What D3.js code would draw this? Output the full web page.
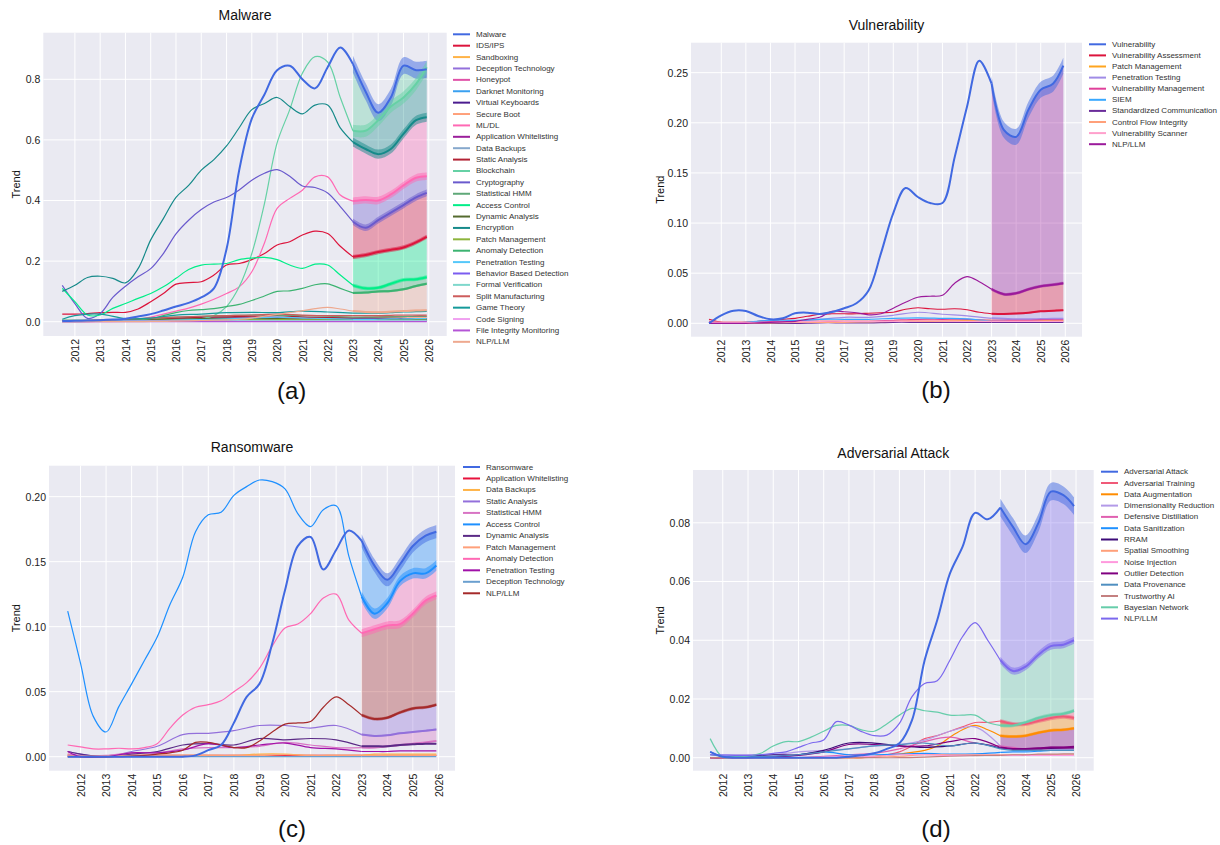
<!DOCTYPE html>
<html>
<head>
<meta charset="utf-8">
<script src="https://cdn.jsdelivr.net/npm/d3@7"></script>
<style>
  body { margin: 0; background: #fff; }
  svg text { font-family: "Liberation Sans", Arial, sans-serif; }
</style>
</head>
<body>
<svg id="chart" width="1220" height="845"></svg>
<script>
// Shared x grids (years). History runs to 2023, forecasts after that.
const halfYears = [2011.5, 2012, 2012.5, 2013, 2013.5, 2014, 2014.5, 2015, 2015.5, 2016, 2016.5, 2017,
                   2017.5, 2018, 2018.5, 2019, 2019.5, 2020, 2020.5, 2021, 2021.5, 2022, 2022.5, 2023];
const wholeYears = [2011.5, 2012, 2013, 2014, 2015, 2016, 2017, 2018, 2019, 2020, 2021, 2022, 2023];
const forecastYears = [2023.5, 2024, 2024.5, 2025, 2025.5, 2025.92];
const yearTicks = [2012, 2013, 2014, 2015, 2016, 2017, 2018, 2019, 2020, 2021, 2022, 2023, 2024, 2025, 2026];

// ---------- (a) Malware ----------
const malwareNames = ["Malware", "IDS/IPS", "Sandboxing", "Deception Technology", "Honeypot", "Darknet Monitoring",
  "Virtual Keyboards", "Secure Boot", "ML/DL", "Application Whitelisting", "Data Backups", "Static Analysis",
  "Blockchain", "Cryptography", "Statistical HMM", "Access Control", "Dynamic Analysis", "Encryption",
  "Patch Management", "Anomaly Detection", "Penetration Testing", "Behavior Based Detection", "Formal Verification",
  "Split Manufacturing", "Game Theory", "Code Signing", "File Integrity Monitoring", "NLP/LLM"];
const malwareColors = ["#4169e1", "#dc143c", "#ffb347", "#9370db", "#e052a8", "#3aa0f0", "#4b1c8f", "#ffa07a",
  "#ff69b4", "#9b1f9b", "#86a8cc", "#b22234", "#66d1a5", "#6a5acd", "#5fa878", "#00ee88", "#556b2f", "#168a8a",
  "#8db43c", "#3cb371", "#55c8fa", "#7b5cf0", "#7fd8cc", "#cd5c5c", "#159a9a", "#f0a0f0", "#b455d6", "#eea98f"];
const malwareHist = [
  [0.002, 0.003, 0.004, 0.005, 0.007, 0.01, 0.017, 0.025, 0.037, 0.05, 0.062, 0.08, 0.11, 0.24, 0.50, 0.67, 0.75, 0.83, 0.845, 0.80, 0.77, 0.84, 0.905, 0.85],
  [0.025, 0.025, 0.027, 0.03, 0.031, 0.031, 0.042, 0.066, 0.093, 0.124, 0.129, 0.132, 0.154, 0.187, 0.192, 0.205, 0.225, 0.253, 0.264, 0.286, 0.299, 0.291, 0.249, 0.214],
  [0.001, 0.001, 0.002, 0.003, 0.004, 0.006, 0.008, 0.009, 0.01, 0.01, 0.009, 0.009, 0.008],
  [0, 0, 0.001, 0.001, 0.002, 0.003, 0.004, 0.005, 0.006, 0.006, 0.006, 0.006, 0.005],
  [0.002, 0.002, 0.003, 0.004, 0.006, 0.01, 0.012, 0.012, 0.01, 0.008, 0.007, 0.006, 0.005],
  [0, 0, 0.001, 0.002, 0.003, 0.004, 0.006, 0.008, 0.01, 0.012, 0.01, 0.008, 0.007],
  [0.001, 0.001, 0.001, 0.001, 0.001, 0.001, 0.001, 0.001, 0.001, 0.001, 0.001, 0.001, 0.001],
  [0, 0, 0.001, 0.002, 0.003, 0.004, 0.005, 0.006, 0.008, 0.01, 0.012, 0.012, 0.011],
  [0, 0, 0, 0.001, 0.002, 0.004, 0.008, 0.015, 0.025, 0.035, 0.045, 0.058, 0.074, 0.093, 0.115, 0.165, 0.26, 0.374, 0.407, 0.434, 0.478, 0.478, 0.418, 0.398],
  [0.003, 0.003, 0.004, 0.005, 0.008, 0.012, 0.014, 0.015, 0.015, 0.014, 0.012, 0.011, 0.01],
  [0.001, 0.001, 0.002, 0.002, 0.003, 0.004, 0.005, 0.006, 0.006, 0.007, 0.006, 0.005, 0.005],
  [0.001, 0.002, 0.004, 0.006, 0.01, 0.012, 0.015, 0.016, 0.018, 0.02, 0.016, 0.014, 0.013],
  [0.003, 0.002, 0.002, 0.002, 0.002, 0.002, 0.003, 0.004, 0.005, 0.006, 0.008, 0.01, 0.02, 0.05, 0.115, 0.225, 0.39, 0.59, 0.70, 0.82, 0.875, 0.857, 0.74, 0.63],
  [0.12, 0.06, 0.011, 0.027, 0.08, 0.117, 0.148, 0.175, 0.225, 0.29, 0.335, 0.37, 0.395, 0.41, 0.435, 0.467, 0.49, 0.502, 0.48, 0.448, 0.443, 0.425, 0.38, 0.33],
  [0.005, 0.005, 0.006, 0.008, 0.01, 0.015, 0.018, 0.02, 0.022, 0.022, 0.02, 0.018, 0.015],
  [0.11, 0.066, 0.022, 0.022, 0.044, 0.06, 0.077, 0.093, 0.115, 0.143, 0.172, 0.187, 0.19, 0.192, 0.205, 0.21, 0.212, 0.205, 0.187, 0.176, 0.19, 0.187, 0.154, 0.12],
  [0.001, 0.002, 0.003, 0.004, 0.006, 0.008, 0.01, 0.011, 0.011, 0.01, 0.009, 0.008, 0.008],
  [0.10, 0.12, 0.146, 0.15, 0.143, 0.128, 0.175, 0.27, 0.34, 0.41, 0.45, 0.50, 0.535, 0.58, 0.64, 0.70, 0.72, 0.74, 0.71, 0.686, 0.715, 0.715, 0.64, 0.593],
  [0.001, 0.001, 0.002, 0.003, 0.004, 0.005, 0.006, 0.006, 0.007, 0.007, 0.006, 0.006, 0.005],
  [0.002, 0.002, 0.002, 0.002, 0.003, 0.004, 0.006, 0.01, 0.02, 0.03, 0.037, 0.04, 0.043, 0.05, 0.057, 0.07, 0.085, 0.1, 0.102, 0.11, 0.122, 0.125, 0.11, 0.095],
  [0, 0, 0.001, 0.002, 0.003, 0.005, 0.007, 0.009, 0.012, 0.015, 0.012, 0.01, 0.008],
  [0.001, 0.001, 0.002, 0.002, 0.003, 0.003, 0.004, 0.004, 0.004, 0.004, 0.003, 0.003, 0.003],
  [0, 0, 0.001, 0.001, 0.002, 0.002, 0.003, 0.003, 0.004, 0.004, 0.004, 0.004, 0.004],
  [0.002, 0.003, 0.005, 0.008, 0.012, 0.015, 0.018, 0.02, 0.022, 0.025, 0.022, 0.02, 0.02],
  [0.008, 0.02, 0.025, 0.01, 0.012, 0.022, 0.025, 0.03, 0.031, 0.03, 0.035, 0.032, 0.028],
  [0, 0, 0, 0.001, 0.001, 0.001, 0.001, 0.001, 0.001, 0.001, 0.001, 0.001, 0.001],
  [0, 0, 0, 0, 0, 0, 0, 0, 0, 0, 0, 0, 0],
  [0, 0, 0, 0, 0, 0, 0, 0.001, 0.001, 0.002, 0.003, 0.004, 0.005, 0.006, 0.008, 0.012, 0.018, 0.024, 0.03, 0.036, 0.043, 0.047, 0.042, 0.035]
];
const malwareForecast = [
  [0.76, 0.69, 0.74, 0.845, 0.83, 0.833],
  [0.22, 0.23, 0.237, 0.245, 0.262, 0.28],
  [0.008, 0.008, 0.009, 0.009, 0.01, 0.01],
  [0.005, 0.005, 0.005, 0.005, 0.005, 0.005],
  [0.005, 0.005, 0.005, 0.005, 0.005, 0.005],
  [0.007, 0.007, 0.007, 0.008, 0.008, 0.008],
  [0.001, 0.001, 0.001, 0.001, 0.001, 0.001],
  [0.011, 0.011, 0.012, 0.012, 0.013, 0.013],
  [0.402, 0.40, 0.42, 0.45, 0.475, 0.48],
  [0.01, 0.01, 0.01, 0.01, 0.01, 0.01],
  [0.005, 0.005, 0.005, 0.005, 0.005, 0.005],
  [0.014, 0.015, 0.016, 0.017, 0.018, 0.018],
  [0.63, 0.665, 0.71, 0.74, 0.785, 0.84],
  [0.31, 0.335, 0.36, 0.385, 0.41, 0.425],
  [0.015, 0.015, 0.016, 0.017, 0.018, 0.018],
  [0.11, 0.112, 0.125, 0.138, 0.14, 0.147],
  [0.008, 0.008, 0.008, 0.008, 0.008, 0.008],
  [0.57, 0.553, 0.57, 0.62, 0.665, 0.675],
  [0.005, 0.005, 0.005, 0.005, 0.005, 0.005],
  [0.096, 0.1, 0.101, 0.107, 0.118, 0.125],
  [0.008, 0.008, 0.009, 0.009, 0.01, 0.01],
  [0.003, 0.003, 0.003, 0.003, 0.003, 0.003],
  [0.004, 0.004, 0.004, 0.004, 0.004, 0.004],
  [0.02, 0.02, 0.021, 0.022, 0.022, 0.022],
  [0.028, 0.028, 0.03, 0.032, 0.033, 0.034],
  [0.001, 0.001, 0.001, 0.001, 0.001, 0.001],
  [0, 0, 0, 0, 0, 0],
  [0.032, 0.031, 0.033, 0.035, 0.037, 0.038]
];
const malwareBand = [0.028, 0.007, 0, 0, 0, 0, 0, 0, 0.012, 0, 0, 0, 0.02, 0.011, 0, 0.006, 0, 0.015, 0, 0.004, 0, 0, 0, 0, 0, 0, 0, 0.003];
const malwareFillOrder = ["Malware", "Blockchain", "Encryption", "ML/DL", "Cryptography", "IDS/IPS", "Access Control", "Anomaly Detection", "NLP/LLM"];
const malwareTicks = [0, 0.2, 0.4, 0.6, 0.8];

// ---------- (b) Vulnerability ----------
const vulnNames = ["Vulnerability", "Vulnerability Assessment", "Patch Management", "Penetration Testing",
  "Vulnerability Management", "SIEM", "Standardized Communication", "Control Flow Integrity", "Vulnerability Scanner", "NLP/LLM"];
const vulnColors = ["#4169e1", "#dc143c", "#ffa51f", "#a08ce6", "#e0409a", "#38a8ff", "#6a2c9a", "#ffa07a", "#ffa0cc", "#9b1a9b"];
const vulnHist = [
  [0, 0.008, 0.0126, 0.0123, 0.0073, 0.004, 0.005, 0.01, 0.0106, 0.0093, 0.0112, 0.015, 0.02, 0.033, 0.07, 0.11, 0.135, 0.126, 0.12, 0.12, 0.166, 0.216, 0.262, 0.239],
  [0.004, 0.001, 0.0005, 0.001, 0.002, 0.003, 0.004, 0.005, 0.007, 0.009, 0.0095, 0.0095, 0.0095, 0.010, 0.0105, 0.011, 0.014, 0.0155, 0.0145, 0.014, 0.0145, 0.0135, 0.011, 0.0095],
  [0.002, 0.001, 0.001, 0.001, 0.002, 0.002, 0.002, 0.002, 0.002, 0.003, 0.003, 0.003, 0.003],
  [0, 0, 0.0005, 0.001, 0.002, 0.004, 0.006, 0.006, 0.008, 0.011, 0.009, 0.0075, 0.005],
  [0.002, 0.001, 0.001, 0.002, 0.002, 0.002, 0.002, 0.002, 0.003, 0.004, 0.004, 0.004, 0.003],
  [0, 0, 0.001, 0.003, 0.003, 0.004, 0.004, 0.004, 0.005, 0.0055, 0.005, 0.0045, 0.002],
  [0, 0, 0, 0, 0, 0.0005, 0.0005, 0.0005, 0.001, 0.001, 0.001, 0.001, 0.001],
  [0, 0, 0, 0.0005, 0.001, 0.001, 0.001, 0.0015, 0.002, 0.002, 0.002, 0.002, 0.002],
  [0.001, 0.001, 0.001, 0.001, 0.0015, 0.002, 0.002, 0.002, 0.002, 0.0025, 0.0025, 0.002, 0.002],
  [0, 0, 0, 0, 0.0005, 0.001, 0.0015, 0.002, 0.004, 0.006, 0.012, 0.0115, 0.0105, 0.0085, 0.0095, 0.015, 0.021, 0.026, 0.027, 0.028, 0.04, 0.0465, 0.0415, 0.034]
];
const vulnForecast = [
  [0.193, 0.186, 0.213, 0.233, 0.239, 0.257],
  [0.0093, 0.0097, 0.0105, 0.012, 0.0125, 0.013],
  [0.003, 0.003, 0.003, 0.003, 0.003, 0.003],
  [0.0045, 0.004, 0.004, 0.0042, 0.0045, 0.0045],
  [0.003, 0.003, 0.003, 0.0035, 0.0035, 0.0035],
  [0.002, 0.0015, 0.0015, 0.0015, 0.0015, 0.0015],
  [0.001, 0.001, 0.001, 0.001, 0.001, 0.001],
  [0.002, 0.002, 0.002, 0.002, 0.002, 0.002],
  [0.002, 0.002, 0.002, 0.002, 0.002, 0.002],
  [0.029, 0.030, 0.034, 0.037, 0.0385, 0.040]
];
const vulnBand = [0.008, 0.0007, 0, 0.0003, 0, 0, 0, 0, 0, 0.0015];
const vulnFillOrder = ["Vulnerability", "NLP/LLM", "Vulnerability Assessment", "Penetration Testing"];
const vulnTicks = [0, 0.05, 0.10, 0.15, 0.20, 0.25];

// ---------- (c) Ransomware ----------
const ransomNames = ["Ransomware", "Application Whitelisting", "Data Backups", "Static Analysis", "Statistical HMM",
  "Access Control", "Dynamic Analysis", "Patch Management", "Anomaly Detection", "Penetration Testing",
  "Deception Technology", "NLP/LLM"];
const ransomColors = ["#4169e1", "#e8123c", "#ffb347", "#9370db", "#d874c4", "#1e90ff", "#5b2a86", "#ffa07a",
  "#ff69b4", "#a010a8", "#6a9fcf", "#a52a2a"];
const ransomHist = [
  [0, 0, 0, 0, 0, 0, 0, 0, 0, 0, 0.001, 0.005, 0.009, 0.026, 0.046, 0.056, 0.087, 0.128, 0.162, 0.169, 0.144, 0.159, 0.174, 0.166],
  [0.001, 0, 0, 0.001, 0.001, 0.001, 0.001, 0.001, 0.001, 0.001, 0.001, 0.001, 0.001],
  [0.002, 0, 0, 0.001, 0.001, 0.001, 0.001, 0.001, 0.002, 0.002, 0.001, 0.001, 0.001],
  [0.004, 0.002, 0, 0.004, 0.008, 0.017, 0.018, 0.02, 0.024, 0.024, 0.022, 0.024, 0.017],
  [0.002, 0.001, 0.001, 0.003, 0.003, 0.006, 0.007, 0.007, 0.008, 0.011, 0.009, 0.007, 0.007],
  [0.112, 0.072, 0.031, 0.019, 0.0385, 0.056, 0.074, 0.092, 0.117, 0.138, 0.173, 0.186, 0.188, 0.201, 0.2077, 0.2128, 0.2115, 0.206, 0.187, 0.177, 0.19, 0.193, 0.154, 0.123],
  [0.004, 0.002, 0, 0.002, 0.004, 0.009, 0.01, 0.009, 0.014, 0.013, 0.014, 0.013, 0.008],
  [0.001, 0.0005, 0.0005, 0.001, 0.001, 0.001, 0.001, 0.001, 0.001, 0.0015, 0.001, 0.001, 0.001],
  [0.009, 0.0075, 0.006, 0.006, 0.0065, 0.006, 0.007, 0.01, 0.022, 0.032, 0.038, 0.04, 0.043, 0.05, 0.057, 0.068, 0.085, 0.099, 0.102, 0.11, 0.122, 0.125, 0.105, 0.095],
  [0.004, 0, 0, 0.003, 0.003, 0.005, 0.01, 0.007, 0.009, 0.0105, 0.007, 0.006, 0.004],
  [0, 0, 0, 0, 0, 0, 0, 0, 0, 0, 0, 0, 0],
  [0, 0, 0, 0, 0, 0.0005, 0.001, 0.002, 0.003, 0.005, 0.011, 0.011, 0.009, 0.007, 0.007, 0.012, 0.019, 0.025, 0.026, 0.027, 0.038, 0.046, 0.04, 0.032]
];
const ransomForecast = [
  [0.147, 0.136, 0.148, 0.162, 0.170, 0.173],
  [0.001, 0.001, 0.001, 0.001, 0.001, 0.001],
  [0.002, 0.002, 0.002, 0.002, 0.002, 0.002],
  [0.016, 0.0165, 0.018, 0.019, 0.02, 0.021],
  [0.007, 0.008, 0.009, 0.01, 0.011, 0.012],
  [0.110, 0.118, 0.135, 0.141, 0.141, 0.147],
  [0.008, 0.008, 0.009, 0.0095, 0.01, 0.01],
  [0.001, 0.001, 0.001, 0.001, 0.001, 0.001],
  [0.098, 0.101, 0.102, 0.11, 0.12, 0.124],
  [0.004, 0.004, 0.0045, 0.0045, 0.0045, 0.0045],
  [0, 0, 0, 0, 0, 0],
  [0.029, 0.030, 0.034, 0.037, 0.038, 0.040]
];
const ransomBand = [0.005, 0, 0, 0.0006, 0.0005, 0.004, 0.0005, 0, 0.003, 0, 0, 0.0012];
const ransomFillOrder = ["Ransomware", "Access Control", "Anomaly Detection", "NLP/LLM", "Static Analysis", "Statistical HMM"];
const ransomTicks = [0, 0.05, 0.10, 0.15, 0.20];

// ---------- (d) Adversarial Attack ----------
const advNames = ["Adversarial Attack", "Adversarial Training", "Data Augmentation", "Dimensionality Reduction",
  "Defensive Distillation", "Data Sanitization", "RRAM", "Spatial Smoothing", "Noise Injection", "Outlier Detection",
  "Data Provenance", "Trustworthy AI", "Bayesian Network", "NLP/LLM"];
const advColors = ["#4169e1", "#f05a78", "#ff8c00", "#b39ae8", "#e060b0", "#1e90ff", "#3c0a78", "#ffa07a",
  "#ff99dd", "#800080", "#4f8fc0", "#c48080", "#66cdaa", "#7b68ee"];
const advHist = [
  [0.002, 0.0003, 0, 0, 0, 0, 0, 0, 0, 0, 0, 0.0003, 0.0008, 0.0015, 0.003, 0.0049, 0.0128, 0.0332, 0.0469, 0.0627, 0.0718, 0.0834, 0.0812, 0.0852],
  [0, 0, 0, 0, 0, 0, 0, 0, 0, 0, 0, 0, 0, 0.0003, 0.001, 0.002, 0.004, 0.0065, 0.0075, 0.009, 0.0105, 0.012, 0.012, 0.0125],
  [0, 0, 0, 0, 0, 0, 0, 0, 0, 0, 0, 0, 0, 0.0005, 0.0008, 0.0012, 0.0018, 0.0025, 0.004, 0.007, 0.0095, 0.011, 0.0095, 0.0075],
  [0.001, 0.001, 0.001, 0.001, 0.002, 0.0025, 0.003, 0.004, 0.0045, 0.006, 0.009, 0.0105, 0.004],
  [0, 0, 0, 0, 0, 0.0005, 0.001, 0.0015, 0.003, 0.0055, 0.007, 0.005, 0.004],
  [0.002, 0.0003, 0.0003, 0.0005, 0.001, 0.002, 0.001, 0.001, 0.0012, 0.0015, 0.0012, 0.0013, 0.0018],
  [0, 0, 0.0005, 0.001, 0.001, 0.0025, 0.005, 0.005, 0.004, 0.0035, 0.004, 0.005, 0.0033],
  [0, 0, 0, 0, 0, 0, 0, 0.0002, 0.0005, 0.001, 0.001, 0.001, 0.001],
  [0, 0, 0, 0, 0, 0.0002, 0.0005, 0.0005, 0.001, 0.001, 0.0008, 0.0008, 0.0008],
  [0, 0, 0, 0.0003, 0.0008, 0.002, 0.0045, 0.0045, 0.004, 0.004, 0.0055, 0.0065, 0.0035],
  [0.001, 0.0005, 0.0005, 0.0005, 0.001, 0.002, 0.003, 0.004, 0.0045, 0.005, 0.004, 0.005, 0.003],
  [0, 0, 0, 0, 0, 0, 0, 0, 0, 0.0002, 0.0005, 0.0007, 0.0008],
  [0.0065, 0.0002, 0.0003, 0.0005, 0.0015, 0.004, 0.0055, 0.0055, 0.007, 0.009, 0.011, 0.011, 0.0095, 0.009, 0.0115, 0.0145, 0.0168, 0.016, 0.0155, 0.0145, 0.0145, 0.0145, 0.012, 0.011],
  [0.001, 0.0009, 0.0008, 0.0008, 0.001, 0.0015, 0.002, 0.0035, 0.005, 0.006, 0.0123, 0.0111, 0.0089, 0.0075, 0.0077, 0.0117, 0.0208, 0.0253, 0.0262, 0.0332, 0.0412, 0.046, 0.040, 0.0332]
];
const advForecast = [
  [0.0786, 0.0727, 0.0798, 0.0906, 0.0894, 0.0857],
  [0.0115, 0.0115, 0.0125, 0.0135, 0.014, 0.0135],
  [0.0072, 0.0075, 0.0085, 0.0093, 0.0095, 0.010],
  [0.0035, 0.003, 0.003, 0.003, 0.003, 0.003],
  [0.0035, 0.003, 0.003, 0.003, 0.003, 0.003],
  [0.002, 0.002, 0.0022, 0.0025, 0.0025, 0.0025],
  [0.003, 0.003, 0.003, 0.0032, 0.0033, 0.0033],
  [0.001, 0.001, 0.001, 0.001, 0.001, 0.001],
  [0.0008, 0.0008, 0.0008, 0.0008, 0.0008, 0.0008],
  [0.003, 0.003, 0.0032, 0.0035, 0.0035, 0.0037],
  [0.0025, 0.0025, 0.0025, 0.0025, 0.0025, 0.0025],
  [0.001, 0.001, 0.0012, 0.0012, 0.0013, 0.0013],
  [0.011, 0.012, 0.0135, 0.0145, 0.015, 0.016],
  [0.0295, 0.031, 0.035, 0.038, 0.0385, 0.040]
];
const advBand = [0.003, 0.0007, 0.0005, 0, 0, 0, 0, 0, 0, 0.0003, 0, 0, 0.0006, 0.0012];
const advFillOrder = ["Adversarial Attack", "NLP/LLM", "Bayesian Network", "Adversarial Training", "Data Augmentation", "Outlier Detection"];
const advTicks = [0, 0.02, 0.04, 0.06, 0.08];

const svg = d3.select("#chart");
const curve = d3.curveCatmullRom.alpha(0.5);

function drawPanel(p) {
  const b = p.box;
  const g = svg.append("g");
  const x = d3.scaleLinear().domain(p.xDomain).range([b.x0, b.x1]);
  const y = d3.scaleLinear().domain(p.yDomain).range([b.y1, b.y0]);

  g.append("rect").attr("x", b.x0).attr("y", b.y0)
    .attr("width", b.x1 - b.x0).attr("height", b.y1 - b.y0).attr("fill", "#eaeaf2");

  // white grid
  g.selectAll("line.gx").data(yearTicks).join("line").attr("class", "gx")
    .attr("x1", d => x(d)).attr("x2", d => x(d)).attr("y1", b.y0).attr("y2", b.y1)
    .attr("stroke", "#fff").attr("stroke-width", 1);
  g.selectAll("line.gy").data(p.yTicks).join("line").attr("class", "gy")
    .attr("x1", b.x0).attr("x2", b.x1).attr("y1", d => y(d)).attr("y2", d => y(d))
    .attr("stroke", "#fff").attr("stroke-width", 1);

  // axes
  g.append("g").attr("transform", `translate(${b.x0},0)`)
    .call(d3.axisLeft(y).tickValues(p.yTicks).tickFormat(d3.format(p.fmt)).tickSize(0).tickPadding(3))
    .call(a => a.select(".domain").remove())
    .call(a => a.selectAll("text").attr("font-size", 10.5).attr("fill", "#222")
      .attr("font-family", "'Liberation Sans', Arial, sans-serif"));
  g.append("g").attr("transform", `translate(0,${b.y1})`)
    .call(d3.axisBottom(x).tickValues(yearTicks).tickFormat(d3.format("d")).tickSize(0))
    .call(a => a.select(".domain").remove())
    .call(a => a.selectAll("text").attr("font-size", 10.5).attr("fill", "#222")
      .attr("font-family", "'Liberation Sans', Arial, sans-serif")
      .attr("transform", "rotate(-90)").attr("x", -3).attr("y", 0).attr("dy", "0.35em")
      .style("text-anchor", "end"));

  // series
  const series = p.names.map((name, i) => {
    const h = p.hist[i];
    const grid = h.length === halfYears.length ? halfYears : wholeYears;
    const pts = h.map((v, j) => [grid[j], v]);
    const fc = [[2023, h[h.length - 1]]].concat(p.forecast[i].map((v, j) => [forecastYears[j], v]));
    return { name, color: p.colors[i], pts, fc, band: p.band[i], main: i === 0 };
  });
  const byName = new Map(series.map(s => [s.name, s]));

  const clipId = "clip-" + p.id;
  svg.append("clipPath").attr("id", clipId).append("rect")
    .attr("x", b.x0).attr("y", b.y0).attr("width", b.x1 - b.x0).attr("height", b.y1 - b.y0);
  const plot = g.append("g").attr("clip-path", `url(#${clipId})`);

  const line = d3.line().x(d => x(d[0])).y(d => y(d[1])).curve(curve);

  // forecast fills between neighbouring series
  for (let k = 0; k < p.fillOrder.length - 1; k++) {
    const up = byName.get(p.fillOrder[k]);
    const lo = byName.get(p.fillOrder[k + 1]);
    const area = d3.area().x(d => x(d[0]))
      .y0((d, j) => y(lo.fc[j][1])).y1(d => y(d[1])).curve(curve);
    plot.append("path").datum(up.fc).attr("d", area)
      .attr("fill", lo.color).attr("fill-opacity", 0.35);
  }

  // confidence bands
  series.filter(s => s.band > 0).forEach(s => {
    const area = d3.area().x(d => x(d[0]))
      .y0(d => y(d[1] - s.band)).y1(d => y(d[1] + s.band)).curve(curve);
    plot.append("path").datum(s.fc).attr("d", area)
      .attr("fill", s.color).attr("fill-opacity", 0.5);
  });

  // lines, main topic last so it sits on top
  series.slice(1).concat(series[0]).forEach(s => {
    plot.append("path").datum(s.pts).attr("d", line).attr("fill", "none")
      .attr("stroke", s.color).attr("stroke-width", s.main ? 2 : 1.2);
    plot.append("path").datum(s.fc).attr("d", line).attr("fill", "none")
      .attr("stroke", s.color).attr("stroke-width", s.band > 0 ? 2 : 1.2);
  });

  // legend
  const lg = g.append("g");
  series.forEach((s, i) => {
    const yy = p.legend.y + i * p.legend.step;
    lg.append("line").attr("x1", p.legend.x).attr("x2", p.legend.x + 17)
      .attr("y1", yy).attr("y2", yy).attr("stroke", s.color).attr("stroke-width", 2);
    lg.append("text").attr("x", p.legend.x + 23).attr("y", yy)
      .attr("dominant-baseline", "central").attr("font-size", 8).attr("fill", "#333").text(s.name);
  });

  // titles
  g.append("text").attr("x", (b.x0 + b.x1) / 2).attr("y", p.titleY)
    .attr("text-anchor", "middle").attr("dominant-baseline", "central")
    .attr("font-size", 14).attr("fill", "#111").text(p.title);
  g.append("text").attr("transform", `translate(${p.yLabelX},${(b.y0 + b.y1) / 2}) rotate(-90)`)
    .attr("text-anchor", "middle").attr("dominant-baseline", "central")
    .attr("font-size", 11).attr("fill", "#111").text("Trend");
  g.append("text").attr("x", p.tag.x).attr("y", p.tag.y)
    .attr("text-anchor", "middle").attr("dominant-baseline", "central")
    .attr("font-size", 24).attr("fill", "#111").text(p.tag.text);
}

drawPanel({
  id: "a", title: "Malware", names: malwareNames, colors: malwareColors, hist: malwareHist,
  forecast: malwareForecast, band: malwareBand, fillOrder: malwareFillOrder, yTicks: malwareTicks, fmt: ".1f",
  box: { x0: 43.3, x1: 446.7, y0: 32.7, y1: 336 }, xDomain: [2010.75, 2026.71], yDomain: [-0.0472, 0.9538],
  titleY: 15, yLabelX: 16, legend: { x: 453, y: 34.3, step: 11.39 }, tag: { text: "(a)", x: 291.7, y: 390 }
});
drawPanel({
  id: "b", title: "Vulnerability", names: vulnNames, colors: vulnColors, hist: vulnHist,
  forecast: vulnForecast, band: vulnBand, fillOrder: vulnFillOrder, yTicks: vulnTicks, fmt: ".2f",
  box: { x0: 691, x1: 1082, y0: 42.7, y1: 336.7 }, xDomain: [2010.767, 2026.68], yDomain: [-0.01337, 0.2799],
  titleY: 25, yLabelX: 660, legend: { x: 1089, y: 44.3, step: 11.1 }, tag: { text: "(b)", x: 936, y: 389 }
});
drawPanel({
  id: "c", title: "Ransomware", names: ransomNames, colors: ransomColors, hist: ransomHist,
  forecast: ransomForecast, band: ransomBand, fillOrder: ransomFillOrder, yTicks: ransomTicks, fmt: ".2f",
  box: { x0: 49, x1: 455, y0: 465.7, y1: 770.7 }, xDomain: [2010.768, 2026.65], yDomain: [-0.01077, 0.2238],
  titleY: 446.7, yLabelX: 15.6, legend: { x: 463, y: 467, step: 11.48 }, tag: { text: "(c)", x: 292, y: 828 }
});
drawPanel({
  id: "d", title: "Adversarial Attack", names: advNames, colors: advColors, hist: advHist,
  forecast: advForecast, band: advBand, fillOrder: advFillOrder, yTicks: advTicks, fmt: ".2f",
  box: { x0: 693, x1: 1093.7, y0: 470, y1: 770.7 }, xDomain: [2010.82, 2026.70], yDomain: [-0.004425, 0.09799],
  titleY: 452.7, yLabelX: 660, legend: { x: 1101, y: 471.7, step: 11.3 }, tag: { text: "(d)", x: 936, y: 828 }
});
</script>
</body>
</html>
